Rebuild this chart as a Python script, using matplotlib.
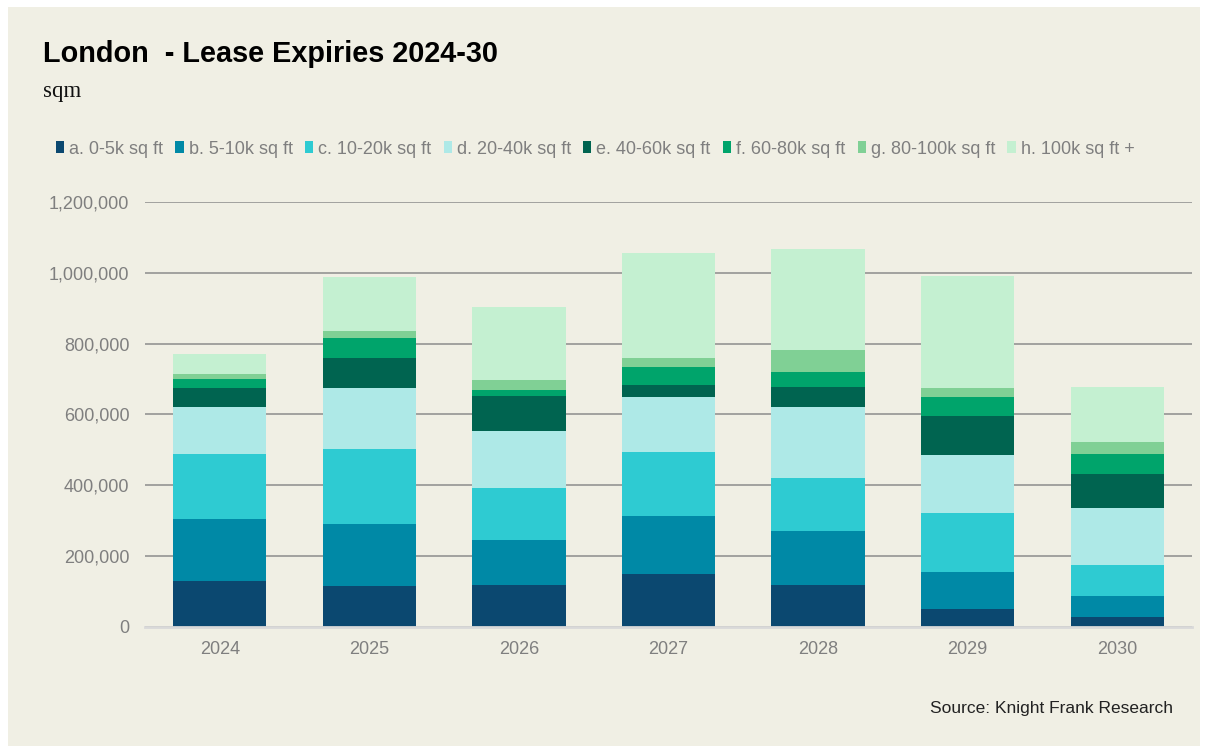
import numpy as np
import matplotlib.pyplot as plt
from matplotlib.patches import Rectangle
from matplotlib.ticker import FuncFormatter

years = ['2024', '2025', '2026', '2027', '2028', '2029', '2030']
bands = ['a. 0-5k sq ft', 'b. 5-10k sq ft', 'c. 10-20k sq ft', 'd. 20-40k sq ft',
         'e. 40-60k sq ft', 'f. 60-80k sq ft', 'g. 80-100k sq ft', 'h. 100k sq ft +']

# sqm expiring per size band, one list per band (2024..2030)
band_a = [128000, 114000, 117000, 150000, 117000, 50000, 28000]
band_b = [175000, 175000, 129000, 164000, 153000, 104000, 58000]
band_c = [186000, 213000, 147000, 179000, 150000, 166000, 88000]
band_d = [132000, 171000, 159000, 156000, 200000, 164000, 161000]
band_e = [52000, 86000, 100000, 35000, 57000, 111000, 96000]
band_f = [26000, 57000, 17000, 50000, 42000, 54000, 57000]
band_g = [15000, 19000, 27000, 25000, 62000, 25000, 33000]
band_h = [56000, 152000, 206000, 296000, 285000, 317000, 156000]

colours = ['#0B4870', '#0089A6', '#2ECBD2', '#AEE9E7',
           '#006450', '#00A46B', '#80D095', '#C4F0D1']

W, H = 1211, 746
fig = plt.figure(figsize=(W / 100, H / 100), dpi=100, facecolor='white')
fig.patches.append(Rectangle((8 / W, 0.0), 1192 / W, 1 - 7 / H,
                             transform=fig.transFigure, facecolor='#F0EFE4',
                             edgecolor='none', zorder=-10))

ax = fig.add_axes([145 / W, 1 - 626.7 / H, 1047 / W, 424.8 / H])
ax.set_facecolor('none')

x = np.arange(len(years))
bottom = np.zeros(len(years))
series = [band_a, band_b, band_c, band_d, band_e, band_f, band_g, band_h]
for name, vals, col in zip(bands, series, colours):
    ax.bar(x, vals, width=0.624, bottom=bottom, color=col, label=name, zorder=3)
    bottom += np.array(vals)

ax.set_xlim(-0.5, len(years) - 0.5)
ax.set_ylim(0, 1200000)
ax.set_yticks(np.arange(0, 1200001, 200000))
ax.yaxis.set_major_formatter(FuncFormatter(lambda v, p: f'{int(v):,}'))
ax.set_xticks(x)
ax.set_xticklabels(years)
ax.grid(axis='y', color='#8C8C8C', linewidth=1.1, zorder=0)
ax.set_axisbelow(True)
for s in ['top', 'right', 'left']:
    ax.spines[s].set_visible(False)
ax.spines['bottom'].set_color('#D9D9D9')
ax.spines['bottom'].set_linewidth(2)
ax.spines['bottom'].set_zorder(4)
ax.tick_params(axis='both', length=0, labelsize=13, labelcolor='#7F7F7F',
               labelfontfamily='Liberation Sans')
ax.tick_params(axis='y', pad=11.3)
ax.tick_params(axis='x', pad=10.5)

fig.text(43 / W, 1 - 62 / H, 'London  - Lease Expiries 2024-30', fontsize=20.8,
         fontweight='bold', family='Liberation Sans', va='baseline', color='black')
fig.text(43 / W, 1 - 97 / H, 'sqm', fontsize=16.5, family='Liberation Serif',
         va='baseline', color='#111111')

fig.legend(loc='center left', bbox_to_anchor=(56 / W, 1 - 149 / H), ncol=8,
           frameon=False, borderpad=0, borderaxespad=0,
           handlelength=0.45, handleheight=0.6, handletextpad=0.28,
           columnspacing=0.68, prop={'family': 'Liberation Sans', 'size': 13},
           labelcolor='#7F7F7F')

fig.text(1173 / W, 1 - 709 / H, 'Source: Knight Frank Research', fontsize=12.5,
         family='Liberation Sans', ha='right', va='center', color='#222222')

fig.savefig('out.png', dpi=100, facecolor='white')
